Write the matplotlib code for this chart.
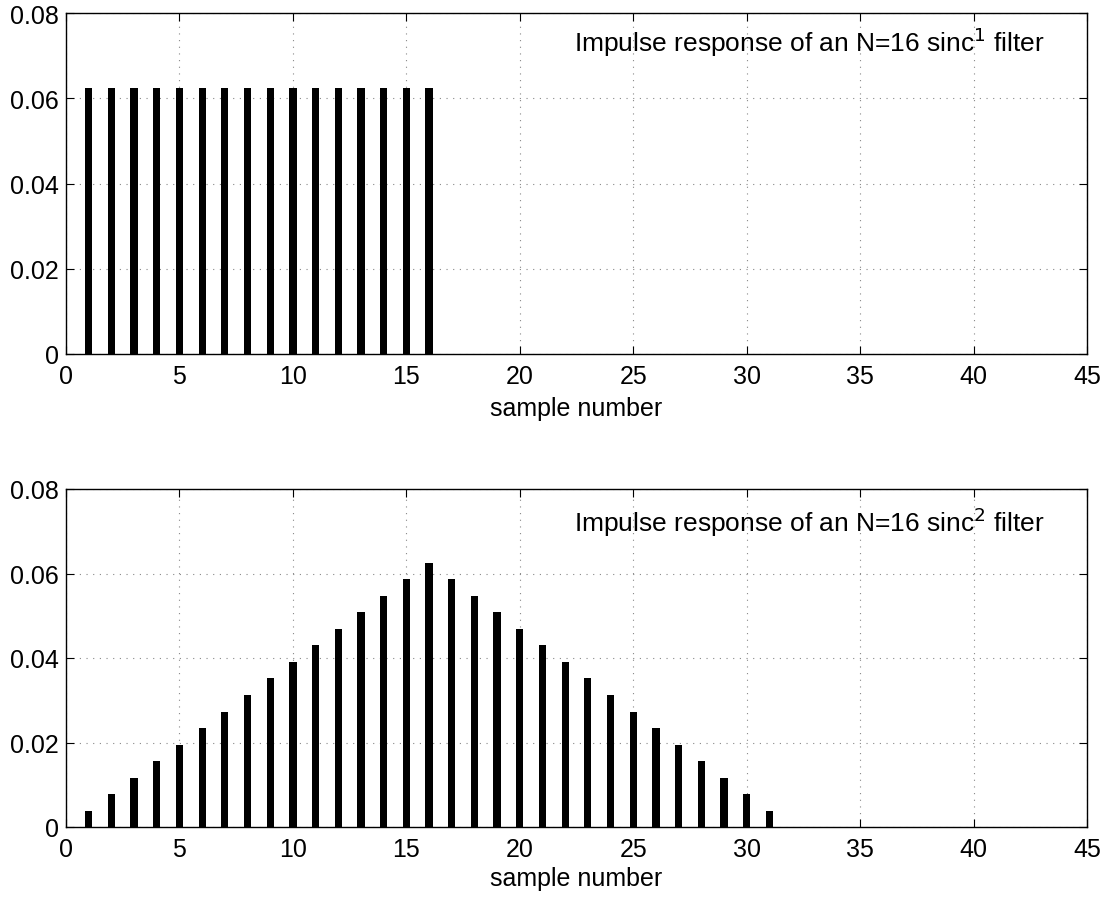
import numpy as np
import matplotlib
matplotlib.use("Agg")
import matplotlib.pyplot as plt

plt.rcParams['font.family'] = ['Liberation Sans', 'DejaVu Sans']

# Coeficientes de los filtros
n1 = np.arange(1, 17)
h1 = [0.0625] * 16
n2 = np.arange(1, 32)
h2 = [0.0039, 0.0078, 0.0117, 0.0156, 0.0195, 0.0234, 0.0273, 0.0313,
      0.0352, 0.0391, 0.0430, 0.0469, 0.0508, 0.0547, 0.0586, 0.0625,
      0.0586, 0.0547, 0.0508, 0.0469, 0.0430, 0.0391, 0.0352, 0.0313,
      0.0273, 0.0234, 0.0195, 0.0156, 0.0117, 0.0078, 0.0039]

titulos = ["Impulse response of an N=16 sinc$^1$ filter",
           "Impulse response of an N=16 sinc$^2$ filter"]
xticks = [0, 5, 10, 15, 20, 25, 30, 35, 40, 45]
yticks = [0, 0.02, 0.04, 0.06, 0.08]

fig = plt.figure(figsize=(11.16, 9.03), dpi=100)
ax1 = fig.add_axes([66/1116, 1-355/903, (1087-66)/1116, (355-14)/903])
ax2 = fig.add_axes([66/1116, 1-828/903, (1087-66)/1116, (828-490)/903])

for ax, n, h, t, ty, lp in [(ax1, n1, h1, titulos[0], 0.918, 6),
                            (ax2, n2, h2, titulos[1], 0.905, 4)]:
    ax.bar(n, h, width=0.32, color='k', zorder=3)
    ax.set_xlim(0, 45)
    ax.set_ylim(0, 0.08)
    ax.set_xticks(xticks)
    ax.set_yticks(yticks)
    ax.set_xticklabels([str(v) for v in xticks])
    ax.set_yticklabels(['0', '0.02', '0.04', '0.06', '0.08'])
    ax.grid(True, linestyle=(0, (1, 5)), color='#888888', linewidth=0.8)
    ax.tick_params(direction='in', length=6, labelsize=18, width=0.8,
                   top=True, right=True)
    ax.tick_params(axis='x', pad=7)
    ax.tick_params(axis='y', pad=5)
    for s in ax.spines.values():
        s.set_linewidth(1.0)
    ax.set_xlabel("sample number", fontsize=18, labelpad=lp)
    ax.text(0.959, ty, t, transform=ax.transAxes, ha='right', va='center',
            fontsize=19)

fig.savefig("out.png", dpi=100)
